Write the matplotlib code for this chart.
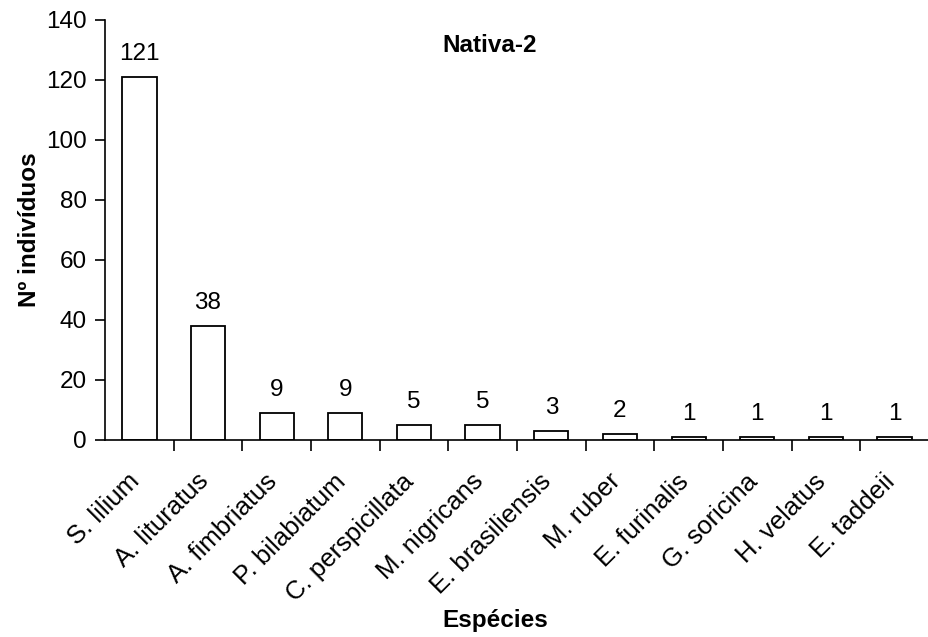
import matplotlib.pyplot as plt
import matplotlib.transforms as mtransforms
import numpy as np

plt.rcParams['font.family'] = ['Liberation Sans', 'DejaVu Sans']

especies = ['S. lilium', 'A. lituratus', 'A. fimbriatus', 'P. bilabiatum',
            'C. perspicillata', 'M. nigricans', 'E. brasiliensis', 'M. ruber',
            'E. furinalis', 'G. soricina', 'H. velatus', 'E. taddeii']
individuos = [121, 38, 9, 9, 5, 5, 3, 2, 1, 1, 1, 1]

fs = 17.5

fig = plt.figure(figsize=(9.29, 6.37), dpi=100)
ax = fig.add_axes([105/929, 1-440/637, 824/929, 420/637])

x = np.arange(len(especies))
ax.bar(x, individuos, width=0.5, color='white', edgecolor='black', linewidth=1.3)
for xi, v in zip(x, individuos):
    ax.text(xi, v + 4, str(v), ha='center', va='bottom', fontsize=fs)

ax.set_xlim(-0.5, len(especies) - 0.5)
ax.set_ylim(0, 140)
ax.set_yticks(range(0, 141, 20))
ax.tick_params(axis='y', labelsize=fs, direction='out', length=7, width=1.2, pad=6)

# ticks between categories on the x axis
ax.set_xticks(x[:-1] + 0.5, minor=False)
ax.set_xticklabels([])
ax.tick_params(axis='x', direction='out', length=8, width=1.2)
ax.set_xticks(x, minor=True)
ax.set_xticklabels(especies, minor=True, rotation=45, ha='right',
                   rotation_mode='anchor', fontsize=18.5)
ax.tick_params(axis='x', which='minor', length=0, pad=21)
shift = mtransforms.ScaledTranslation(-12/100, 0, fig.dpi_scale_trans)
for lbl in ax.get_xticklabels(minor=True):
    lbl.set_transform(lbl.get_transform() + shift)

ax.spines['top'].set_visible(False)
ax.spines['right'].set_visible(False)
ax.spines['left'].set_linewidth(1.2)
ax.spines['bottom'].set_linewidth(1.2)

ax.text(0.467, 0.94, 'Nativa-2', transform=ax.transAxes, ha='center', va='center',
        fontsize=fs, fontweight='bold')
fig.text(30/929, 1-230/637, 'Nº indivíduos', rotation=90, ha='center', va='center',
         fontsize=fs, fontweight='bold')
fig.text(495/929, 1-620/637, 'Espécies', ha='center', va='center',
         fontsize=fs, fontweight='bold')

fig.savefig('out.png', dpi=100)
